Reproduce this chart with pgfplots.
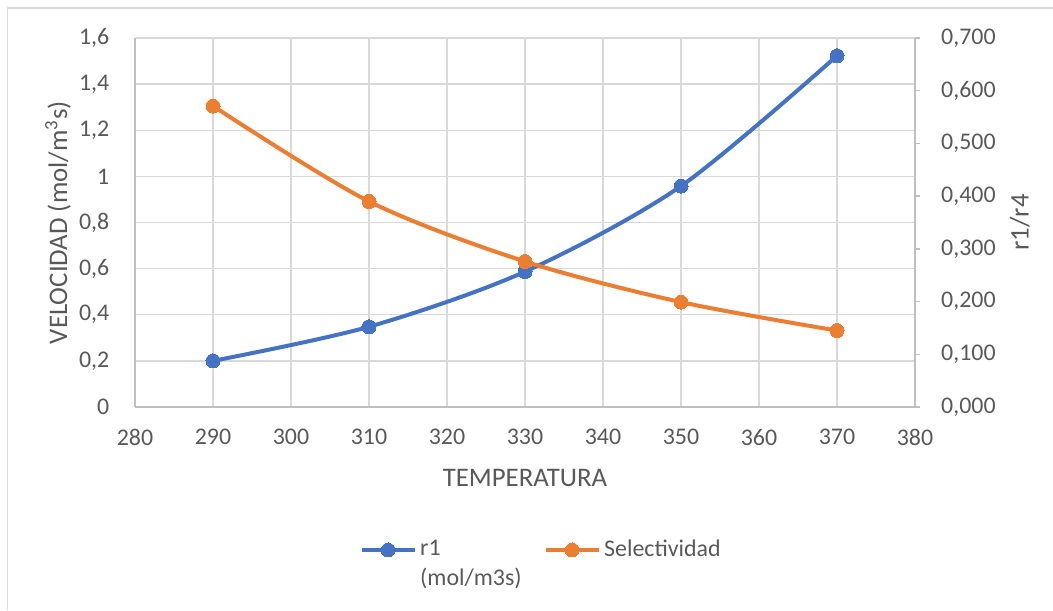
\documentclass[border=0pt]{standalone}
\usepackage{pgfplots}
\pgfplotsset{compat=1.18}
\usepackage{fontspec}
\setmainfont{Carlito}
\definecolor{txt}{HTML}{595959}
\definecolor{gridgray}{HTML}{D9D9D9}
\definecolor{axisgray}{HTML}{BFBFBF}
\definecolor{cblue}{HTML}{4472C4}
\definecolor{corange}{HTML}{ED7D31}
\begin{document}
\begin{tikzpicture}
\useasboundingbox (0,0) rectangle (431.73pt,250.1pt);
\draw[gridgray, line width=0.6pt] (3.08pt,0) -- (3.08pt,246.82pt) -- (431.73pt,246.82pt);
\begin{axis}[
  at={(55.35pt,83.23pt)}, anchor=south west,
  scale only axis, width=319.8pt, height=151.29pt,
  xmin=280, xmax=380, ymin=0, ymax=1.6,
  xtick={280,290,300,310,320,330,340,350,360,370,380},
  ytick={0,0.2,0.4,0.6,0.8,1,1.2,1.4,1.6},
  grid=major, grid style={draw=gridgray, line width=0.6pt},
  axis x line*=bottom, axis y line*=left,
  axis line style={draw=axisgray, line width=0.6pt, -},
  major tick length=0pt,
  /pgf/number format/assume math mode=true,
  tick label style={font=\fontsize{9.8}{11}\selectfont, text=txt},
  yticklabel style={/pgf/number format/fixed, /pgf/number format/precision=1, /pgf/number format/use comma, xshift=-7pt},
  xticklabel style={/pgf/number format/set thousands separator={}, yshift=-5.5pt},
  xlabel={TEMPERATURA},
  ylabel={VELOCIDAD (mol/m\textsuperscript{3}s)},
  label style={font=\fontsize{11}{13}\selectfont, text=txt},
  xlabel style={at={(axis description cs:0.5,-0.192)}, anchor=center},
  ylabel style={at={(axis description cs:-0.0987,0.5)}, anchor=center, rotate=0},
  legend columns=2,
  legend style={at={(axis description cs:0.278,-0.3875)}, anchor=west, draw=none, fill=none,
    font=\fontsize{9.8}{12.2}\selectfont, text=txt,
    nodes={inner sep=1.5pt},
    /tikz/every even column/.append style={column sep=7.5pt}},
  legend cell align=left,
  legend image code/.code={\draw[mark repeat=2, mark phase=2] plot coordinates {(0pt,0pt) (10.85pt,0pt) (21.7pt,0pt)};},
]
\addplot[cblue, line width=1.64pt, smooth, tension=0.5, mark=*, mark size=2.87pt, mark options={fill=cblue, draw=cblue, line width=0pt}]
  coordinates {(290,0.2) (310,0.348) (330,0.587) (350,0.958) (370,1.523)};
\addlegendentry{\smash{\begin{tabular}[t]{@{}l@{}}r1\\(mol/m3s)\end{tabular}}\vphantom{Sy}}
\addlegendimage{corange, line width=1.64pt, mark=*, mark size=2.87pt, mark options={fill=corange, draw=corange, line width=0pt}}
\addlegendentry{Selectividad}
\end{axis}
\begin{axis}[
  at={(55.35pt,83.23pt)}, anchor=south west,
  scale only axis, width=319.8pt, height=151.29pt,
  xmin=280, xmax=380, ymin=0, ymax=0.7,
  axis x line=none, axis y line*=right,
  axis line style={draw=axisgray, line width=0.6pt, -},
  ytick={0,0.1,0.2,0.3,0.4,0.5,0.6,0.7},
  tick align=outside, major tick length=2.2pt,
  tick style={draw=axisgray, line width=0.6pt},
  /pgf/number format/assume math mode=true,
  tick label style={font=\fontsize{9.8}{11}\selectfont, text=txt},
  yticklabel style={/pgf/number format/fixed, /pgf/number format/fixed zerofill, /pgf/number format/precision=3, /pgf/number format/use comma, xshift=5pt},
  ylabel={r1/r4},
  label style={font=\fontsize{11}{13}\selectfont, text=txt},
  ylabel style={at={(axis description cs:1.1346,0.5)}, anchor=center, rotate=0},
]
\addplot[corange, line width=1.64pt, smooth, tension=0.5, mark=*, mark size=2.87pt, mark options={fill=corange, draw=corange, line width=0pt}]
  coordinates {(290,0.571) (310,0.390) (330,0.276) (350,0.199) (370,0.145)};
\end{axis}
\end{tikzpicture}
\end{document}
